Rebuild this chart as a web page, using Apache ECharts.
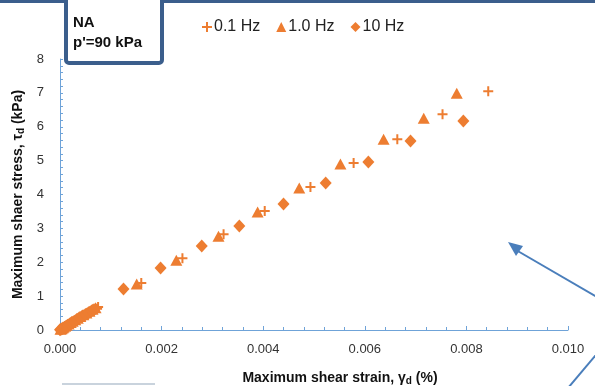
<!DOCTYPE html>
<html>
<head>
<meta charset="utf-8">
<script src="https://cdn.jsdelivr.net/npm/echarts@6/dist/echarts.min.js"></script>
<style>
html,body{margin:0;padding:0;background:#fff;}
#main{width:595px;height:386px;}
</style>
</head>
<body>
<div id="main"></div>
<script>
// 0.1 Hz (strain %, stress kPa)
let hz01=[
    [0.00001,0.01],[0.00003,0.03],[0.00005,0.05],[0.00008,0.07],[0.00011,0.10],[0.00014,0.13],
    [0.00018,0.16],[0.00022,0.20],[0.00027,0.24],[0.00032,0.28],[0.00037,0.33],[0.00043,0.38],
    [0.00049,0.43],[0.00055,0.48],[0.00061,0.53],[0.00067,0.58],[0.00073,0.63],[0.00075,0.68],
    [0.0016,1.39],[0.00241,2.12],[0.00322,2.83],[0.00403,3.51],[0.00493,4.22],[0.00578,4.93],
    [0.00664,5.63],[0.00753,6.37],[0.00843,7.05]
];
// 1.0 Hz
let hz1=[
    [0.00001,0.02],[0.00003,0.04],[0.00005,0.06],[0.00007,0.08],[0.0001,0.11],[0.00013,0.14],
    [0.00017,0.18],[0.00021,0.22],[0.00025,0.26],[0.0003,0.30],[0.00035,0.35],[0.0004,0.40],
    [0.00046,0.45],[0.00052,0.50],[0.00058,0.55],[0.00064,0.61],[0.0007,0.66],
    [0.00151,1.36],[0.00229,2.06],[0.00312,2.77],[0.00389,3.48],[0.00471,4.19],[0.00552,4.90],
    [0.00637,5.63],[0.00716,6.25],[0.00781,6.99]
];
// 10 Hz
let hz10=[
    [0.0,0.01],[0.00002,0.02],[0.00004,0.04],[0.00006,0.06],[0.00009,0.08],[0.00012,0.11],
    [0.00015,0.14],[0.00019,0.18],[0.00023,0.22],[0.00028,0.26],[0.00033,0.31],[0.00038,0.36],
    [0.00044,0.41],[0.0005,0.46],[0.00056,0.51],[0.00062,0.56],[0.00067,0.60],
    [0.00125,1.21],[0.00198,1.83],[0.00279,2.48],[0.00353,3.07],[0.0044,3.72],[0.00523,4.34],
    [0.00607,4.96],[0.0069,5.58],[0.00794,6.17]
];
let seriesNames=['0.1 Hz','1.0 Hz','10 Hz'];
let xTicks=[0,0.002,0.004,0.006,0.008,0.010];
let yTicks=[0,1,2,3,4,5,6,7,8];

const orange='#ED7D31';
const axisBlue='#6FA3D8';
const darkBlue='#3B5E8C';
const plusPath='path://M4,0H6V4H10V6H6V10H4V6H0V4H4Z';

let chart=echarts.init(document.getElementById('main'));

let option={
    animation:false,
    backgroundColor:'#fff',
    textStyle:{fontFamily:'Liberation Sans, Arial, sans-serif'},
    grid:{left:60,right:27,top:59,bottom:56,outerBoundsMode:'none',containLabel:false},
    legend:{
        top:14,left:197,
        itemWidth:10,itemHeight:10,itemGap:16,
        textStyle:{fontSize:16,color:'#222',padding:[0,0,0,-3]},
        data:[
            {name:seriesNames[0],icon:plusPath},
            {name:seriesNames[1],icon:'triangle'},
            {name:seriesNames[2],icon:'diamond'}
        ]
    },
    xAxis:{
        type:'value',
        min:xTicks[0],max:xTicks[xTicks.length-1],interval:0.002,
        axisLine:{lineStyle:{color:axisBlue}},
        axisTick:{inside:true,length:4,lineStyle:{color:axisBlue}},
        minorTick:{show:true,splitNumber:5,length:3,lineStyle:{color:axisBlue}},
        splitLine:{show:false},
        axisLabel:{fontSize:13,color:'#333',margin:13,formatter:v=>v.toFixed(3)},
        name:'{b|Maximum shear strain, γ}{s|d}{b| (%)}',
        nameLocation:'middle',nameGap:40,
        nameTextStyle:{padding:[0,0,0,52],rich:{
            b:{fontSize:14,fontWeight:'bold',color:'#111'},
            s:{fontSize:10,fontWeight:'bold',color:'#111',verticalAlign:'bottom',padding:[6,0,0,0]}
        }}
    },
    yAxis:{
        type:'value',
        min:yTicks[0],max:yTicks[yTicks.length-1],interval:1,
        axisLine:{show:true,lineStyle:{color:axisBlue}},
        axisTick:{show:true,inside:true,length:3,lineStyle:{color:axisBlue}},
        minorTick:{show:true,splitNumber:5,length:3,lineStyle:{color:axisBlue}},
        splitLine:{show:false},
        axisLabel:{fontSize:13,color:'#333',margin:16},
        name:'{b|Maximum shaer stress, τ}{s|d}{b| (kPa)}',
        nameLocation:'middle',nameGap:33,
        nameTextStyle:{rich:{
            b:{fontSize:14,fontWeight:'bold',color:'#111'},
            s:{fontSize:10,fontWeight:'bold',color:'#111',padding:[6,0,0,0]}
        }}
    },
    graphic:[
        {type:'rect',shape:{x:0,y:0,width:595,height:3},style:{fill:darkBlue},z:100},
        {type:'rect',shape:{x:66,y:-4,width:96,height:67,r:3},style:{fill:'#fff',stroke:darkBlue,lineWidth:4},z:100},
        {type:'text',left:73,top:13,z:101,style:{text:"NA\np'=90 kPa",fontSize:15,fontWeight:'bold',fill:'#111',lineHeight:20,fontFamily:'Liberation Sans, Arial, sans-serif'}},
        {type:'line',shape:{x1:602,y1:300,x2:516,y2:250},style:{stroke:'#4A7EBB',lineWidth:2},z:100},
        {type:'polygon',shape:{points:[[508,242],[523,246],[516,256]]},style:{fill:'#4A7EBB'},z:100},
        {type:'line',shape:{x1:600,y1:350,x2:568,y2:388},style:{stroke:'#4A7EBB',lineWidth:2},z:100},
        {type:'line',shape:{x1:62,y1:384,x2:155,y2:384},style:{stroke:'#c9d3dd',lineWidth:2},z:100}
    ],
    series:[
        {name:seriesNames[0],type:'scatter',data:hz01,symbol:plusPath,symbolSize:10,itemStyle:{color:orange,opacity:1}},
        {name:seriesNames[1],type:'scatter',data:hz1,symbol:'triangle',symbolSize:[12,11],itemStyle:{color:orange,opacity:1}},
        {name:seriesNames[2],type:'scatter',data:hz10,symbol:'diamond',symbolSize:[12,13],itemStyle:{color:orange,opacity:1}}
    ]
};
chart.setOption(option);
</script>
</body>
</html>
